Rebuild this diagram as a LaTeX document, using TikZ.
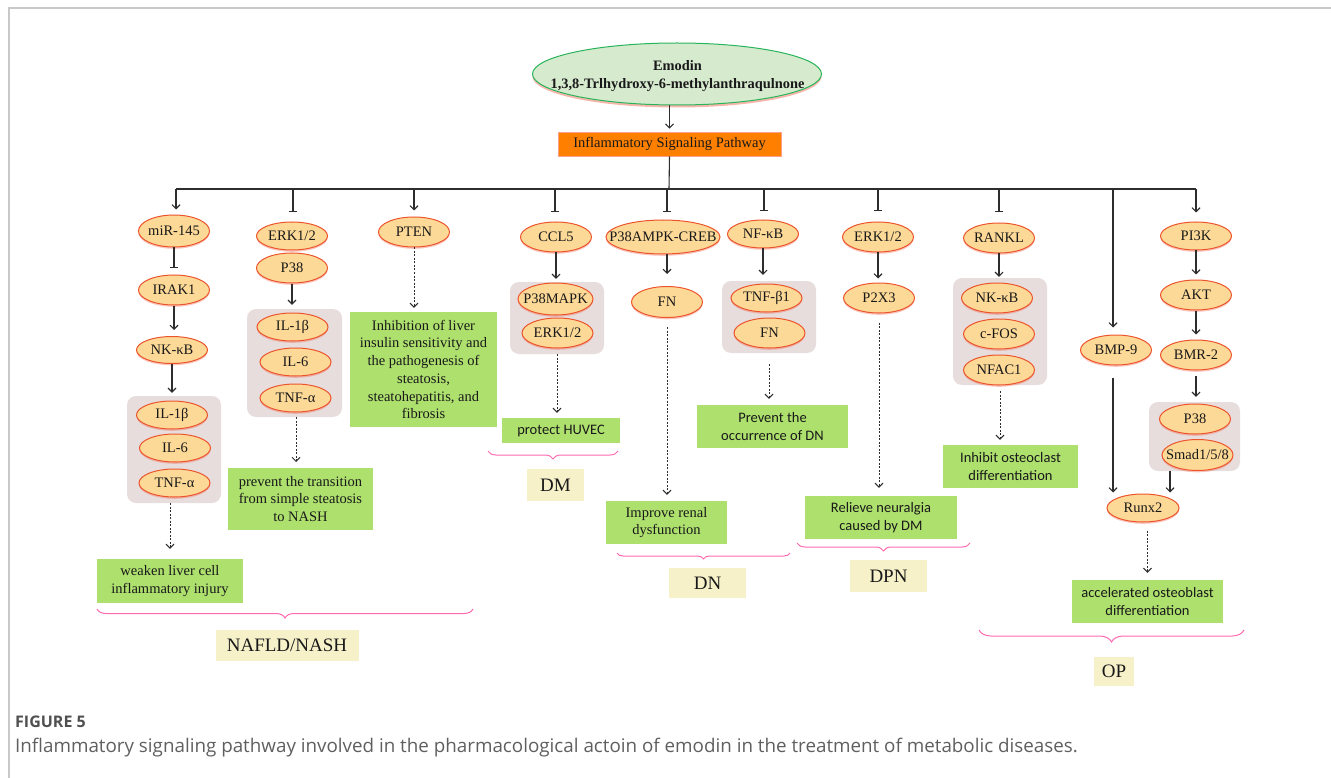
\documentclass[tikz,border=0pt]{standalone}
\usepackage{fontspec}
\setmainfont{Liberation Serif}
\newfontfamily\calibrifont{Carlito}
\newfontfamily\capfont{Open Sans}
\usetikzlibrary{shapes.geometric,arrows.meta,decorations.pathreplacing,shadows}
\definecolor{ellfill}{RGB}{252,217,151}
\definecolor{ellbd}{RGB}{236,84,44}
\definecolor{glow}{RGB}{240,110,90}
\definecolor{gcol}{RGB}{174,224,110}
\definecolor{grpcol}{RGB}{232,221,221}
\definecolor{labcol}{RGB}{247,241,202}
\definecolor{brcol}{RGB}{255,105,175}
\definecolor{orng}{RGB}{255,128,0}
\definecolor{orngbd}{RGB}{250,160,140}
\definecolor{topfill}{RGB}{214,234,206}
\definecolor{topbd}{RGB}{40,180,90}
\definecolor{lncol}{RGB}{45,45,45}
\definecolor{txt}{RGB}{25,25,25}
\definecolor{framecol}{RGB}{200,200,200}
\definecolor{capdark}{RGB}{80,80,80}
\definecolor{capgray}{RGB}{95,95,95}
\newcommand\fsA{\fontsize{14.5}{17.7}\selectfont}
\newcommand\fsL{\fontsize{19}{22}\selectfont}
\tikzset{
 ln/.style={draw=lncol, line width=1.1pt},
 arr/.style={ln, -{Straight Barb[length=4pt,width=8pt,line width=1.1pt]}},
 tbar/.style={ln, -{Bar[width=8pt,line width=1.1pt]}},
 darr/.style={draw=lncol, line width=1pt, dash pattern=on 2pt off 1.5pt, -{Straight Barb[length=4pt,width=8pt,line width=1pt]}},
 ell/.style={ellipse, draw=ellbd, fill=ellfill, line width=1pt, minimum width=71pt, minimum height=30pt, inner xsep=-30pt, inner ysep=0pt, font=\fsA, text=txt, drop shadow={shadow xshift=0pt, shadow yshift=-1.8pt, fill=glow, opacity=0.4}},
 grp/.style={rectangle, rounded corners=9pt, fill=grpcol, inner sep=0pt},
 gbox/.style={rectangle, fill=gcol, inner sep=0pt, align=center, font=\fsA, text=txt},
 cbox/.style={gbox, font=\calibrifont\fsA},
 lab/.style={rectangle, fill=labcol, inner sep=0pt, font=\fsL, text=txt},
 brc/.style={draw=brcol, line width=1pt, decorate, decoration={brace, mirror, amplitude=#1}},
 brc/.default=9pt
}
\begin{document}
\begin{tikzpicture}[x=1pt,y=-1pt]
\useasboundingbox (0,0) rectangle (1331,778);
\draw[framecol, line width=1.2pt] (9,778) -- (9,8) -- (1331,8);

% top
\node[ellipse, draw=topbd, fill=topfill, line width=1pt, minimum width=289pt, minimum height=62pt, inner sep=0pt, drop shadow={shadow xshift=0pt, shadow yshift=-2.5pt, fill=glow, opacity=0.5}] (emodin) at (677,74) {};
\node[align=center, inner sep=0pt, font=\fontsize{14.4}{18}\selectfont\bfseries, text=txt] (emodintext) at (677.5,76) {Emodin\\1,3,8-Trlhydroxy-6-methylanthraqulnone};
\node[rectangle, fill=orng, draw=orngbd, line width=0.8pt, minimum width=223pt, minimum height=24pt, inner sep=0pt, font=\fsA, text=txt] (isp) at (669.5,144) {Inflammatory Signaling Pathway};
\draw[arr, shorten >=3pt] (isp.north |- emodin.south) -- (isp.north);
\coordinate (bus) at (669,189);
\draw[ln] (isp.south) -- (bus);
\coordinate (b1) at (176,189);
\coordinate (b2) at (293,189);
\coordinate (b3) at (414,189);
\coordinate (b4) at (555,189);
\coordinate (b5) at (667,189);
\coordinate (b6) at (764,189);
\coordinate (b7) at (878,189);
\coordinate (b8) at (999,189);
\coordinate (b9) at (1113,189);
\coordinate (b10) at (1196,189);
\draw[ln] (b1) -- (b10);

% group backgrounds
\node[grp, minimum width=94pt, minimum height=107pt] (grp1) at (174,449.5) {};
\node[grp, minimum width=95pt, minimum height=108pt] (grp2) at (294.5,363) {};
\node[grp, minimum width=94pt, minimum height=72pt] (grp4) at (557,318) {};
\node[grp, minimum width=94pt, minimum height=72pt] (grp6) at (769,317) {};
\node[grp, minimum width=94pt, minimum height=107pt] (grp8) at (1000,331.5) {};
\node[grp, minimum width=91pt, minimum height=69pt] (grp10) at (1194.5,436.5) {};

% column 1
\node[ell, minimum height=32pt] (m145) at (174,231) {miR-145};
\node[ell] (irak1) at (174,290) {IRAK1};
\node[ell, minimum height=27pt] (nkb1) at (172,350) {NK-κB};
\node[ell, minimum height=28pt] (il1b1) at (172,415) {IL-1β};
\node[ell, minimum height=28pt] (il6a) at (175,448) {IL-6};
\node[ell, minimum height=28pt] (tnfa1) at (174.5,483) {TNF-α};
\node[gbox, minimum width=146pt, minimum height=44pt] (g1) at (170,581) {weaken liver cell\\inflammatory injury};
\draw[arr, shorten >=5pt] (b1) -- (b1 |- m145.north);
\draw[tbar, shorten >=6pt] (m145.south) -- (irak1.north);
\draw[arr, shorten >=6pt] (irak1.south) -- (irak1.south |- nkb1.north);
\draw[arr, shorten >=3pt] (nkb1.south) -- (nkb1.south |- grp1.north);
\draw[darr, shorten >=10pt] (g1.north |- grp1.south) -- (g1.north);
\draw[brc=9pt] (97,609) -- (473,609);
\node[lab, minimum width=143pt, minimum height=31pt] (nafld) at (287,645.5) {NAFLD/NASH};

% column 2
\node[ell, minimum height=28pt] (erk2) at (292,236) {ERK1/2};
\node[ell] (p38a) at (292,268) {P38};
\node[ell, minimum height=28pt] (il1b2) at (292.5,327) {IL-1β};
\node[ell, minimum height=28pt] (il6b) at (295.5,362) {IL-6};
\node[ell, minimum height=28pt] (tnfa2) at (295.5,398) {TNF-α};
\node[gbox, minimum width=145pt, minimum height=62pt] (g2) at (300.5,499) {prevent the transition\\from simple steatosis\\to NASH};
\draw[tbar, shorten >=9pt] (b2) -- (b2 |- erk2.north);
\draw[arr, shorten >=4pt] (p38a.south) -- (p38a.south |- grp2.north);
\draw[darr, shorten >=3pt] (grp2.south -| 296,0) -- (296,465);

% column 3
\node[ell] (pten) at (414,232) {PTEN};
\node[gbox, minimum width=147pt, minimum height=115pt] (g3) at (423.5,369.5) {Inhibition of liver\\insulin sensitivity and\\the pathogenesis of\\steatosis,\\steatohepatitis, and\\fibrosis};
\draw[arr, shorten >=6pt] (b3) -- (b3 |- pten.north);
\draw[darr, shorten >=4pt] (pten.south) -- (pten.south |- g3.north);

% column 4
\node[ell] (ccl5) at (556,237) {CCL5};
\node[ell, minimum width=75pt, minimum height=32pt] (p38m) at (555.5,299) {P38MAPK};
\node[ell] (erk4) at (557.5,333) {ERK1/2};
\node[cbox, minimum width=118pt, minimum height=25pt] (g4) at (561,430.5) {protect HUVEC};
\draw[tbar, shorten >=9pt] (b4) -- (b4 |- ccl5.north);
\draw[arr, shorten >=3pt] (ccl5.south) -- (ccl5.south |- grp4.north);
\draw[darr, shorten >=5pt] (grp4.south) -- (grp4.south |- g4.north);
\draw[brc=8pt] (488,451) -- (618,451);
\node[lab, minimum width=57pt, minimum height=32pt] (dm) at (555.5,485) {DM};

% column 5
\node[ell, minimum width=114pt, minimum height=34pt] (p38c) at (663,237) {P38AMPK-CREB};
\node[ell, minimum height=31pt] (fn5) at (667,302) {FN};
\node[gbox, minimum width=121pt, minimum height=43pt] (g5) at (666.5,522.5) {Improve renal\\dysfunction};
\draw[tbar, shorten >=7pt] (b5) -- (b5 |- p38c.north);
\draw[arr, shorten >=12pt] (b5 |- p38c.south) -- (b5 |- fn5.north);
\draw[darr, shorten >=6pt] ([yshift=-9pt]fn5.south) -- (fn5.south |- g5.north);
\draw[brc=6pt] (617,553) -- (790,553);
\node[lab, minimum width=77pt, minimum height=30pt] (dn) at (707.5,583) {DN};

% column 6
\node[ell, minimum height=28pt] (nfkb) at (763,234) {NF-κB};
\node[ell, minimum height=28pt] (tnfb) at (766.5,298) {TNF-β1};
\node[ell, minimum height=30pt] (fn6) at (769.5,333) {FN};
\node[cbox, minimum width=151pt, minimum height=43pt] (g6) at (772.5,426.5) {Prevent the\\occurrence of DN};
\draw[tbar, shorten >=8pt] (b6) -- (b6 |- nfkb.north);
\draw[arr, shorten >=6pt] (nfkb.south) -- (nfkb.south |- grp6.north);
\draw[darr, shorten >=6pt] ([yshift=-11pt]grp6.south) -- (grp6.south |- g6.north);

% column 7
\node[ell] (erk7) at (878,237) {ERK1/2};
\node[ell] (p2x3) at (879,298) {P2X3};
\draw[tbar, shorten >=10pt] (b7) -- (b7 |- erk7.north);
\node[cbox, minimum width=152pt, minimum height=43pt] (g7) at (881,517.5) {Relieve neuralgia\\caused by DM};
\draw[arr, shorten >=4pt] (erk7.south) -- (erk7.south |- p2x3.north);
\draw[darr, shorten >=8pt] ([yshift=-9pt]p2x3.south) -- (p2x3.south |- g7.north);
\draw[brc=8pt] (797,543) -- (970,543);
\node[lab, minimum width=77pt, minimum height=32pt] (dpn) at (888.5,576) {DPN};

% column 8
\node[ell] (rankl) at (999,238) {RANKL};
\node[ell] (nkb8) at (997,298) {NK-κB};
\node[ell] (cfos) at (999,334) {c-FOS};
\node[ell] (nfac1) at (999,370) {NFAC1};
\node[cbox, minimum width=135pt, minimum height=43pt] (g8) at (1010.5,466.5) {Inhibit osteoclast\\differentiation};
\draw[tbar, shorten >=10pt] (b8) -- (b8 |- rankl.north);
\draw[arr, shorten >=1pt] (rankl.south) -- (rankl.south |- grp8.north);
\draw[darr, shorten >=5pt] ([yshift=-6pt]grp8.south) -- (grp8.south |- g8.north);

% column 9 and 10
\node[ell] (bmp9) at (1116,350) {BMP-9};
\node[ell, minimum height=28pt] (pi3k) at (1196,236) {PI3K};
\node[ell] (akt) at (1196,295) {AKT};
\node[ell] (bmr2) at (1196,355) {BMR-2};
\node[ell] (p38b) at (1195,419) {P38};
\node[ell, minimum height=31pt] (smad) at (1197.5,455) {Smad1/5/8};
\node[ell, minimum width=72pt, minimum height=28pt] (runx2) at (1143,508) {Runx2};
\node[cbox, minimum width=151pt, minimum height=43pt] (g10) at (1147.5,601.5) {accelerated osteoblast\\differentiation};
\draw[arr, shorten >=7pt] (b9) -- (b9 |- bmp9.north);
\draw[arr, shorten >=1pt] ([yshift=-12pt]b9 |- bmp9.south) -- (b9 |- runx2.north);
\draw[arr, shorten >=9pt] (b10) -- (b10 |- pi3k.north);
\draw[arr, shorten >=5pt] (pi3k.south) -- (akt.north);
\draw[arr, shorten >=5pt] (akt.south) -- (bmr2.north);
\draw[arr, shorten >=5pt] ([yshift=-5pt]bmr2.south) -- (bmr2.south |- grp10.north);
\draw[arr, shorten >=1pt] ([xshift=-24.5pt]grp10.south) -- ([xshift=-24.5pt]grp10.south |- runx2.north);
\draw[darr, shorten >=7pt] ([yshift=-8pt]runx2.south -| g10.north) -- (g10.north);
\draw[brc=12pt] (979,630) -- (1244,630);
\node[lab, minimum width=40pt, minimum height=29pt] (op) at (1114,671.5) {OP};

% caption
\node[anchor=west, inner sep=0pt, font=\capfont\bfseries\fontsize{16}{19}\selectfont, text=capdark] (figlabel) at (15,722) {FIGURE 5};
\node[anchor=west, inner sep=0pt, font=\capfont\fontsize{18.8}{22}\selectfont, text=capgray] (caption) at (15,748) {Inflammatory signaling pathway involved in the pharmacological actoin of emodin in the treatment of metabolic diseases.};
\end{tikzpicture}
\end{document}
